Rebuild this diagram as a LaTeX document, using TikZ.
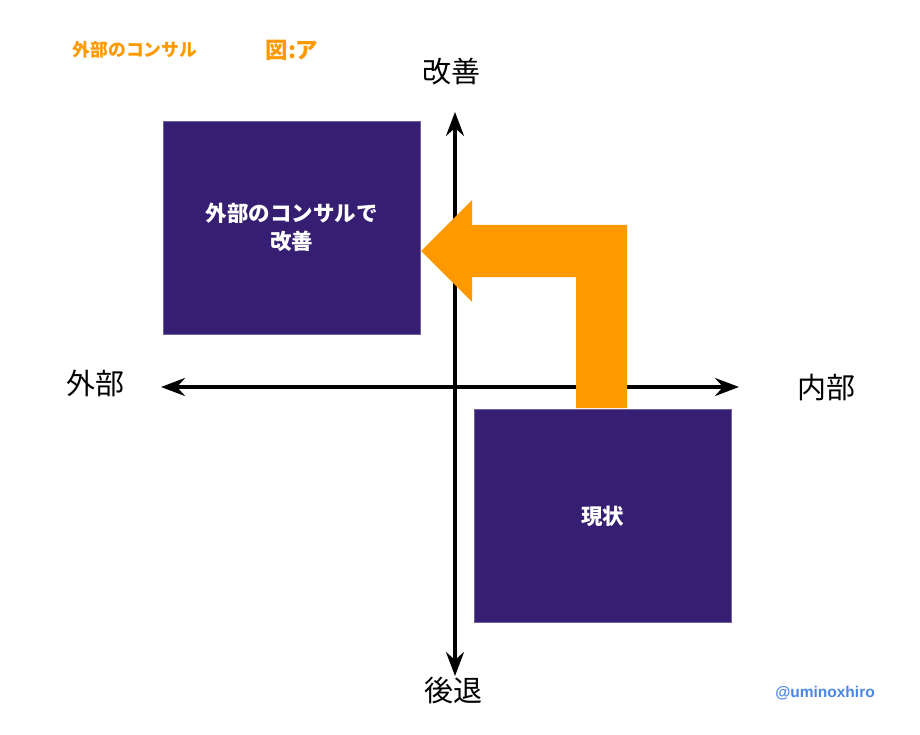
\documentclass[tikz,border=0pt]{standalone}
\usepackage{fontspec}
\setmainfont{Liberation Sans}
\newfontfamily\cjk{Noto Sans CJK JP}
\usetikzlibrary{arrows.meta}
\definecolor{boxpurple}{RGB}{54,30,114}
\definecolor{signorange}{RGB}{255,153,0}
\definecolor{tagblue}{RGB}{74,134,232}

\begin{document}
\begin{tikzpicture}[x=1pt,y=-1pt,
  quadbox/.style={draw=boxpurple!70,fill=boxpurple,minimum width=257pt,minimum height=213pt,inner sep=0pt,
    text=white,font=\cjk\bfseries\fontsize{21.5}{28}\selectfont,align=center},
  axislabel/.style={font=\cjk\fontsize{29}{32}\selectfont},
  axisline/.style={line width=3.2pt,{Stealth[length=24pt,width=18pt,inset=8pt]}-{Stealth[length=24pt,width=18pt,inset=8pt]}}]
\useasboundingbox[fill=white] (0,0) rectangle (920,735);
%\draw[help lines] (0,0) grid[step=50] (920,735);
% axes
\coordinate (up) at (455,112);
\coordinate (down) at (455,676);
\coordinate (left) at (161,387);
\coordinate (right) at (739,387);
\draw[axisline] (down)--(up);
\draw[axisline] (left)--(right);
% boxes
\node[quadbox] (consul) at (291.5,227.5) {外部のコンサルで\\改善};
\node[quadbox] (now) at (602.5,516) {現状};
% turning arrow
\fill[signorange] (576,408) -- (576,277) -- (472,277) -- (472,302) -- (421,251)
  -- (472,200) -- (472,225) -- (627,225) -- (627,408) -- cycle;
% labels
\node[axislabel] (better) at (451,72) {改善};
\node[axislabel] (worse) at (453,691) {後退};
\node[axislabel] (outside) at (95,383) {外部};
\node[axislabel] (inside) at (826,388) {内部};
\node[text=signorange,font=\cjk\bfseries\fontsize{17.8}{20}\selectfont] (title) at (135,50) {外部のコンサル};
\node[text=signorange,font=\cjk\bfseries\fontsize{22.5}{24}\selectfont] (fig) at (292,50) {図:ア};
\node[text=tagblue,font=\bfseries\fontsize{15.5}{18}\selectfont] (tag) at (825,693) {@uminoxhiro};
\end{tikzpicture}
\end{document}
